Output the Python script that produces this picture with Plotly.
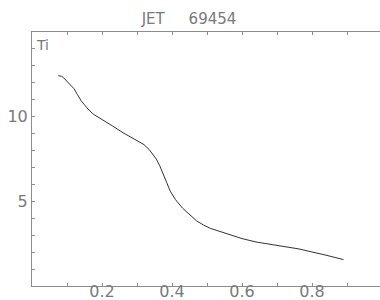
import plotly.graph_objects as go

# Data (JET 69454, Ti profile)
rho = [0.075, 0.085, 0.09, 0.10, 0.11, 0.12, 0.13, 0.14, 0.15, 0.16, 0.175,
       0.20, 0.23, 0.26, 0.28, 0.30, 0.32, 0.335, 0.345, 0.355, 0.365, 0.375,
       0.385, 0.395, 0.41, 0.43, 0.45, 0.47, 0.49, 0.51, 0.54, 0.57, 0.60,
       0.64, 0.68, 0.72, 0.76, 0.80, 0.84, 0.89]
ti = [12.42, 12.38, 12.30, 12.10, 11.85, 11.65, 11.30, 10.95, 10.70, 10.45, 10.15,
      9.85, 9.45, 9.05, 8.80, 8.60, 8.35, 8.05, 7.80, 7.50, 7.10, 6.65,
      6.10, 5.60, 5.10, 4.60, 4.20, 3.85, 3.60, 3.40, 3.20, 3.00, 2.80,
      2.60, 2.45, 2.33, 2.20, 2.02, 1.82, 1.56]

x_ticks = [0.1, 0.2, 0.3, 0.4, 0.5, 0.6, 0.7, 0.8, 0.9]
x_labels = ["", "0.2", "", "0.4", "", "0.6", "", "0.8", ""]
y_ticks = list(range(0, 16))
y_labels = ["5" if v == 5 else ("10" if v == 10 else "") for v in y_ticks]

title_text = "JET\u00a0\u00a0\u00a0\u00a0\u00a069454"
ylabel_text = "Ti"

axis_col = "#8c8c8c"
text_col = "#7a7a7a"
font_family = "DejaVu Sans"

fig = go.Figure()
fig.add_trace(go.Scatter(x=rho, y=ti, mode="lines",
                         line=dict(color="#333333", width=1),
                         showlegend=False, hoverinfo="skip"))

fig.update_layout(
    width=380, height=300,
    margin=dict(l=32, r=0, t=32, b=14, autoexpand=False),
    paper_bgcolor="white", plot_bgcolor="white",
    title=dict(text=title_text, x=189/380, xanchor="center",
               y=1 - 19/300, yanchor="middle",
               font=dict(family=font_family, size=15, color=text_col)),
    font=dict(family=font_family, color=text_col),
    xaxis=dict(range=[0, 348/350], tickvals=x_ticks, ticktext=x_labels,
               automargin=False,
               showgrid=False, zeroline=False, showline=True,
               linecolor=axis_col, linewidth=1, mirror="ticks",
               ticks="inside", ticklen=3, tickcolor=axis_col,
               ticklabelstandoff=-9,
               tickfont=dict(family=font_family, size=16, color=text_col)),
    yaxis=dict(range=[0, 15], tickvals=y_ticks, ticktext=y_labels,
               automargin=False,
               showgrid=False, zeroline=False, showline=True,
               linecolor=axis_col, linewidth=1, mirror=False,
               ticks="inside", ticklen=3, tickcolor=axis_col,
               tickfont=dict(family=font_family, size=16, color=text_col)),
    annotations=[dict(text=ylabel_text, xref="paper", yref="paper",
                      x=0.005, y=1 - 13/254, xanchor="left", yanchor="middle",
                      showarrow=False,
                      font=dict(family=font_family, size=14, color=text_col))],
)

fig.write_html("out.html", config={"displayModeBar": False},
               post_script="document.body.style.margin='0';")
